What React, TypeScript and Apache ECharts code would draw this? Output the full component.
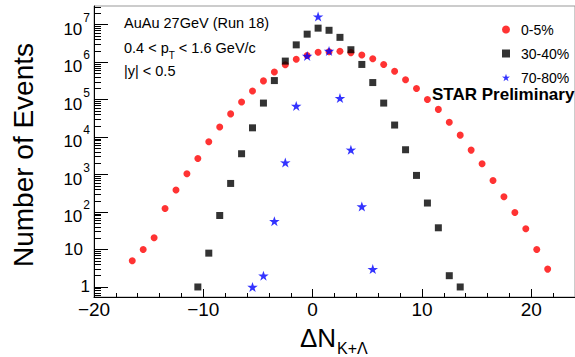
import React, { useEffect, useRef } from "react";
import * as echarts from "echarts";

// ---- data ----
const xCentral = [
  -16.5, -15.5, -14.5, -13.5, -12.5, -11.5, -10.5, -9.5, -8.5, -7.5, -6.5, -5.5, -4.5,
  -3.5, -2.5, -1.5, -0.5, 0.5, 1.5, 2.5, 3.5, 4.5, 5.5, 6.5, 7.5, 8.5, 9.5, 10.5, 11.5,
  12.5, 13.5, 14.5, 15.5, 16.5, 17.5, 18.5, 19.5, 20.5, 21.5,
];
const yCentral = [
  5, 10, 20.6, 125, 386, 1050, 2700, 7500, 18700, 41700, 87000, 171000, 317000,
  550000, 850000, 1.2e6, 1.5e6, 1.85e6, 1.9e6, 1.95e6, 1.8e6, 1.56e6, 1.23e6, 870000,
  575000, 338000, 198000, 101000, 55000, 25000, 11300, 4500, 1940, 695, 257, 97, 36, 10, 3,
];
const xMid = [
  -10.5, -9.5, -8.5, -7.5, -6.5, -5.5, -4.5, -3.5, -2.5, -1.5, -0.5, 0.5, 1.5, 2.5, 3.5,
  4.5, 5.5, 6.5, 7.5, 8.5, 9.5, 10.5, 11.5, 12.5, 13.5,
];
const yMid = [
  1, 8, 81, 580, 3600, 17700, 81000, 323000, 1.07e6, 2.9e6, 5.6e6, 8.1e6, 7.1e6, 4.6e6,
  2.15e6, 870000, 286000, 81000, 21000, 4600, 950, 174, 38, 2, 1,
];
const xPeri = [-5.5, -4.5, -3.5, -2.5, -1.5, -0.5, 0.5, 1.5, 2.5, 3.5, 4.5, 5.5];
const yPeri = [1, 2, 57, 2100, 68000, 1.47e6, 1.65e7, 2e6, 110000, 4600, 141, 3];

const seriesNames = ["0-5%", "30-40%", "70-80%"];
const xMajorTicks = [-20, -10, 0, 10, 20];
const xMinorTicks = [-18, -16, -14, -12, -8, -6, -4, -2, 2, 4, 6, 8, 12, 14, 16, 18, 22, 24];
const yMajorTicks = [1, 10, 100, 1000, 10000, 100000, 1000000, 10000000];
const yMinorMultipliers = [2, 3, 4, 5, 6, 7, 8, 9];
const yBelowOne = [0.6, 0.7, 0.8, 0.9];

const FONT = "'Liberation Sans', Arial, Helvetica, sans-serif";
const STAR =
  "path://M50,0L61.8,35.1L97.6,34.5L68.1,56.9L79.4,90.5L50,69.5L20.6,90.5L31.9,56.9L2.4,34.5L38.2,35.1Z";

const yMinorTicks: number[] = [...yBelowOne];
for (let e = 0; e <= 7; e++) {
  for (const m of yMinorMultipliers) {
    const v = m * Math.pow(10, e);
    if (v <= 3.1e7) yMinorTicks.push(v);
  }
}

export default function App() {
  const ref = useRef<HTMLDivElement>(null);
  useEffect(() => {
    if (!ref.current) return;
    const chart = echarts.init(ref.current, null, { renderer: "svg" });
    const yLabelFmt = (v: number) => {
      const e = Math.round(Math.log10(v));
      if (e === 0) return "{p|1}";
      if (e === 1) return "{p|10}{gap|}";
      return "{b|10}{s|" + e + "}";
    };
    const option: any = {
      animation: false,
      grid: {
        left: 94,
        right: 0,
        top: 6,
        bottom: 60,
        show: true,
        borderColor: "#999",
        borderWidth: 1,
      },
      legend: {
        orient: "vertical",
        left: 497,
        top: 17,
        itemWidth: 8,
        itemHeight: 8,
        itemGap: 9,
        symbolKeepAspect: true,
        formatter: (n: string) => "{g|}{t|" + n + "}",
        textStyle: {
          fontSize: 14,
          fontFamily: FONT,
          color: "#000",
          lineHeight: 15,
          rich: {
            g: { width: 6 },
            t: { fontSize: 14, fontFamily: FONT, color: "#000", lineHeight: 15 },
          },
        },
        data: seriesNames,
      },
      xAxis: [
        {
          type: "value",
          min: -20,
          max: 24,
          position: "bottom",
          axisLine: { show: true, onZero: false, lineStyle: { color: "#000", width: 1 } },
          axisTick: {
            show: true,
            inside: true,
            length: 8,
            customValues: xMajorTicks,
            lineStyle: { color: "#000" },
          },
          axisLabel: {
            customValues: xMajorTicks,
            fontSize: 19,
            fontFamily: FONT,
            color: "#000",
            margin: 3,
            formatter: (v: number) => String(v).replace("-", "\u2212"),
          },
          splitLine: { show: false },
        },
        {
          type: "value",
          min: -20,
          max: 24,
          position: "bottom",
          axisLine: { show: false, onZero: false },
          axisTick: {
            show: true,
            inside: true,
            length: 4,
            customValues: xMinorTicks,
            lineStyle: { color: "#000" },
          },
          axisLabel: { show: false },
          splitLine: { show: false },
        },
      ],
      yAxis: [
        {
          type: "log",
          logBase: 10,
          min: 0.54,
          max: 3.16e7,
          position: "left",
          axisLine: { show: true, onZero: false, lineStyle: { color: "#000", width: 1 } },
          axisTick: {
            show: true,
            inside: true,
            length: 14,
            customValues: yMajorTicks,
            lineStyle: { color: "#000" },
          },
          axisLabel: {
            customValues: yMajorTicks,
            margin: 4,
            formatter: yLabelFmt,
            rich: {
              p: { fontSize: 17, fontFamily: FONT, color: "#000", lineHeight: 20 },
              gap: { width: 7 },
              b: {
                fontSize: 17,
                fontFamily: FONT,
                color: "#000",
                lineHeight: 26,
                verticalAlign: "bottom",
              },
              s: {
                fontSize: 12,
                fontFamily: FONT,
                color: "#000",
                lineHeight: 20,
                verticalAlign: "top",
                padding: [0, 0, 0, 1],
              },
            },
          },
          splitLine: { show: false },
        },
        {
          type: "log",
          logBase: 10,
          min: 0.54,
          max: 3.16e7,
          position: "left",
          axisLine: { show: false, onZero: false },
          axisTick: {
            show: true,
            inside: true,
            length: 7,
            customValues: yMinorTicks,
            lineStyle: { color: "#000" },
          },
          axisLabel: { show: false },
          splitLine: { show: false },
        },
      ],
      series: [
        {
          type: "scatter",
          name: seriesNames[0],
          data: xCentral.map((x, i) => [x, yCentral[i]]),
          symbol: "circle",
          symbolSize: 7,
          symbolKeepAspect: true,
          itemStyle: { color: "#ff0000" },
          z: 2,
        },
        {
          type: "scatter",
          name: seriesNames[1],
          data: xMid.map((x, i) => [x, yMid[i]]),
          symbol: "rect",
          symbolSize: 7,
          symbolKeepAspect: true,
          itemStyle: { color: "#000000" },
          z: 3,
        },
        {
          type: "scatter",
          name: seriesNames[2],
          data: xPeri.map((x, i) => [x, yPeri[i]]),
          symbol: STAR,
          symbolSize: 10.5,
          symbolKeepAspect: true,
          itemStyle: { color: "#0000ff" },
          z: 4,
        },
      ],
      graphic: [
        {
          type: "text",
          x: 124,
          y: 22.7,
          style: {
            text: "AuAu 27GeV (Run 18)",
            fontSize: 14.5,
            fontFamily: FONT,
            fill: "#000",
            verticalAlign: "middle",
          },
        },
        {
          type: "text",
          x: 124,
          y: 48.3,
          style: {
            text: "{m|0.4 < p}{t|T}{m| < 1.6 GeV/c}",
            verticalAlign: "middle",
            rich: {
              m: { fontSize: 14.5, fontFamily: FONT, fill: "#000", lineHeight: 24 },
              t: {
                fontSize: 10,
                fontFamily: FONT,
                fill: "#000",
                lineHeight: 10,
                verticalAlign: "bottom",
              },
            },
          },
        },
        {
          type: "text",
          x: 124,
          y: 71,
          style: {
            text: "|y| < 0.5",
            fontSize: 14.5,
            fontFamily: FONT,
            fill: "#000",
            verticalAlign: "middle",
          },
        },
        {
          type: "text",
          x: 432,
          y: 94.1,
          style: {
            text: "STAR Preliminary",
            fontSize: 17,
            fontWeight: "bold",
            fontFamily: FONT,
            fill: "#000",
            verticalAlign: "middle",
          },
        },
        {
          type: "text",
          x: 23,
          y: 155,
          rotation: Math.PI / 2,
          style: {
            text: "Number of Events",
            fontSize: 28,
            fontFamily: FONT,
            fill: "#000",
            align: "center",
            verticalAlign: "middle",
          },
        },
        {
          type: "text",
          x: 300,
          y: 338,
          style: {
            text: "\u0394N",
            fontSize: 26,
            fontFamily: FONT,
            fill: "#000",
            verticalAlign: "middle",
          },
        },
        {
          type: "text",
          x: 337,
          y: 348.5,
          style: {
            text: "K+\u039B",
            fontSize: 16,
            fontFamily: FONT,
            fill: "#000",
            verticalAlign: "middle",
          },
        },
      ],
    };
    chart.setOption(option);
    return () => chart.dispose();
  }, []);
  return (
    <div
      ref={ref}
      style={{ position: "fixed", left: 0, top: 0, width: 575, height: 357, background: "#fff" }}
    />
  );
}
